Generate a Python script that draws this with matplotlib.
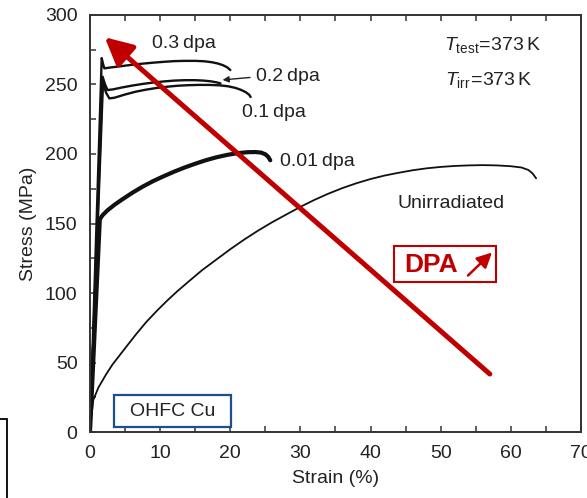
import matplotlib
matplotlib.use("Agg")
import matplotlib.pyplot as plt
from matplotlib.patches import Rectangle, FancyArrowPatch

plt.rcParams['font.family'] = ['Liberation Sans', 'DejaVu Sans']
plt.rcParams['mathtext.fontset'] = 'custom'
plt.rcParams['mathtext.rm'] = 'Liberation Sans'
plt.rcParams['mathtext.it'] = 'Liberation Sans:italic'

# Engineering stress-strain curves, OHFC copper tested at 373 K
unirr_strain = [0, 0.2, 0.47, 1.2, 2.3, 3.2, 4.2, 5.4, 6.6, 8, 9.5, 11, 12.5, 14, 16, 18, 20,
                22, 24, 26, 28, 30, 32, 34, 36, 38, 40, 42, 44, 46, 48, 50, 52, 54, 56,
                58, 60, 61.5, 62.5, 63.1, 63.6]
unirr_stress = [0, 11, 23, 32, 41.5, 48.5, 55, 62.8, 70.5, 79, 87, 94.5, 101.5, 108, 116.5, 124,
                131.5, 138.5, 145, 151, 156.5, 162, 167, 171.5, 175.5, 179, 182, 184.5,
                186.5, 188.3, 189.7, 190.7, 191.4, 191.8, 192, 191.8, 191.2, 190.3, 188.5,
                186, 182.5]

dpa001_strain = [0, 1.4, 1.8, 2.5, 3.5, 4.5, 6, 7.5, 9, 10.5, 12, 13.5, 15, 16.5, 18, 19.5,
                 21, 22.5, 23.6, 24.4, 25, 25.4, 25.7]
dpa001_stress = [0, 153, 156, 159.5, 163.5, 167, 172, 176.5, 180.5, 184, 187.3, 190.3, 193,
                 195.5, 197.6, 199.3, 200.6, 201.3, 201.4, 201, 199.8, 198, 195.5]

dpa01_strain = [0, 1.85, 2.3, 2.76, 3.5, 5, 6.5, 8, 9.5, 11, 12.5, 14, 15.5, 17, 18.5, 19.7,
                20.7, 21.5, 22.2, 22.7, 22.9]
dpa01_stress = [0, 251, 244, 240, 240.5, 242.8, 244.8, 246.3, 247.5, 248.4, 249.1, 249.5,
                249.7, 249.7, 249.4, 248.7, 247.6, 246.2, 244.5, 242.6, 241]

dpa02_strain = [0, 1.8, 2.15, 2.5, 3.3, 4.5, 6, 7.5, 9, 10.5, 12, 13.5, 15, 16.2, 17.2, 18,
                18.6]
dpa02_stress = [0, 255.6, 250, 246, 246.5, 247.8, 249.2, 250.4, 251.4, 252.2, 252.8, 253.1,
                253.1, 252.8, 252.3, 251.6, 250.8]

dpa03_strain = [0, 1.67, 1.85, 2.05, 3, 4.5, 6, 7.5, 9, 10.5, 12, 13.5, 15, 16.3, 17.4, 18.3,
                19, 19.6, 20]
dpa03_stress = [0, 269, 265, 261.6, 262.3, 263.2, 264.2, 265, 265.7, 266.3, 266.8, 267,
                267, 266.7, 266, 265, 263.8, 262.2, 260.4]

x_ticks = [0, 10, 20, 30, 40, 50, 60, 70]
y_ticks = [0, 50, 100, 150, 200, 250, 300]

ink = '#222222'
red = '#C00000'

fig = plt.figure(figsize=(5.87, 4.98), dpi=100)
ax = fig.add_axes([0.1533, 0.1325, 0.8365, 0.8374])

curve_kw = dict(color='#111111', solid_capstyle='round', solid_joinstyle='round')
ax.plot(unirr_strain, unirr_stress, lw=1.3, **curve_kw)
ax.plot(dpa001_strain, dpa001_stress, lw=3.0, **curve_kw)
ax.plot(dpa01_strain, dpa01_stress, lw=1.7, **curve_kw)
ax.plot(dpa02_strain, dpa02_stress, lw=1.7, **curve_kw)
ax.plot(dpa03_strain, dpa03_stress, lw=1.7, **curve_kw)

ax.set_xlim(0, 70)
ax.set_ylim(0, 300)
ax.set_xticks(x_ticks)
ax.set_yticks(y_ticks)
ax.set_xticks(range(5, 70, 10), minor=True)
ax.set_yticks(range(25, 300, 50), minor=True)
ax.tick_params(which='both', direction='in', length=4, width=1.1, color='#333333',
               top=True, labelsize=14, labelcolor=ink)
ax.tick_params(axis='x', which='major', pad=9)
ax.tick_params(axis='y', which='major', pad=9)
for s in ax.spines.values():
    s.set_linewidth(1.4)
    s.set_color('#333333')

ax.set_xlabel('Strain (%)', fontsize=14, color=ink, labelpad=6)
ax.set_ylabel('Stress (MPa)', fontsize=14, color=ink, labelpad=6)

# Curve labels
ax.text(8.8, 279.6, '0.3\u2009dpa', fontsize=14, color=ink, va='center', ha='left')
ax.annotate('0.2\u2009dpa', xy=(18.9, 253.3), xytext=(23.6, 255.4), fontsize=14, color=ink,
            va='center', ha='left',
            arrowprops=dict(arrowstyle='-|>', color=ink, lw=1.0, mutation_scale=9,
                            shrinkA=2, shrinkB=0, relpos=(0, 0.5)))
ax.text(21.7, 229.5, '0.1\u2009dpa', fontsize=14, color=ink, va='center', ha='left')
ax.text(27.1, 194.5, '0.01\u2009dpa', fontsize=14, color=ink, va='center', ha='left')
ax.text(43.9, 164.7, 'Unirradiated', fontsize=14, color=ink, va='center', ha='left')

ax.text(50.4, 278.4, r'$T_{\mathrm{test}}\!=\!373\,\mathrm{K}$', fontsize=14, color=ink,
        va='center', ha='left')
ax.text(50.6, 253.0, r'$T_{\mathrm{irr}}\!=\!373\,\mathrm{K}$', fontsize=14, color=ink,
        va='center', ha='left')

# Trend arrow: increasing dose
ax.annotate('', xy=(2.1, 284), xytext=(57.0, 41.7),
            arrowprops=dict(arrowstyle='-|>,head_length=0.75,head_width=0.38', color=red,
                            lw=3.6, mutation_scale=22, shrinkA=0, shrinkB=0))


def fx(px):
    return px / 587.0


def fy(py):
    return 1 - py / 498.0


# "DPA" box
fig.patches.append(Rectangle((fx(393.5), fy(282.5)), fx(496) - fx(393.5), fy(246) - fy(282.5),
                             transform=fig.transFigure, fill=True, facecolor='white',
                             edgecolor=red, lw=1.5, zorder=5))
fig.text(fx(404), fy(264.5), 'DPA', fontsize=19, fontweight='bold', color=red,
         va='center', ha='left', zorder=6)
fig.add_artist(FancyArrowPatch((fx(468), fy(275.5)), (fx(492), fy(252.5)),
                               transform=fig.transFigure,
                               arrowstyle='-|>,head_length=0.5,head_width=0.25',
                               color=red, lw=1.8, mutation_scale=18,
                               shrinkA=0, shrinkB=0, zorder=7))

# Material box
fig.patches.append(Rectangle((fx(113.5), fy(426.5)), fx(231.5) - fx(113.5), fy(395) - fy(426.5),
                             transform=fig.transFigure, fill=True, facecolor='white',
                             edgecolor='#1F4E8C', lw=1.6, zorder=5))
fig.text(fx(172.5), fy(411), 'OHFC Cu', fontsize=14, color=ink, va='center', ha='center', zorder=6)

# Partial frame at the lower left edge
fig.patches.append(Rectangle((fx(-20), fy(520)), fx(7) - fx(-20), fy(419.5) - fy(520),
                             transform=fig.transFigure, fill=False, edgecolor='black',
                             lw=1.3, zorder=5))

fig.savefig('out.png', dpi=100)
